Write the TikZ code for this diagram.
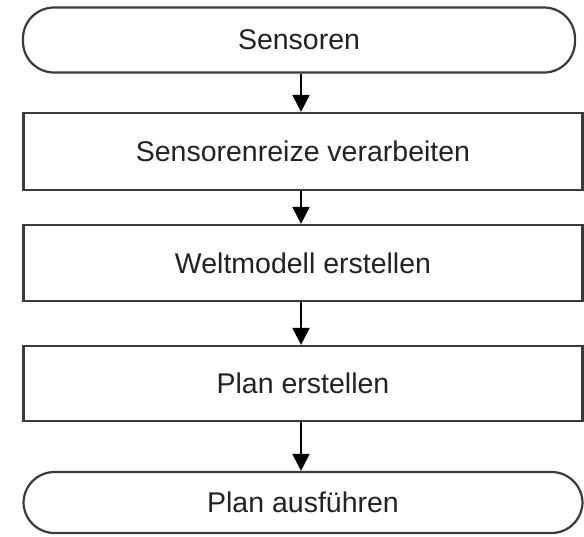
\documentclass[tikz,border=0pt]{standalone}
\usepackage{fontspec}
\setmainfont{Liberation Sans}
\usetikzlibrary{arrows.meta}
\definecolor{edgegray}{HTML}{3A3A3A}
\definecolor{textgray}{HTML}{222222}
\begin{document}
\begin{tikzpicture}[x=1pt,y=1pt,
  box/.style={draw=edgegray, line width=2.2pt, fill=white, rectangle,
    inner sep=0pt, text=textgray,
    font=\fontsize{28.5}{34}\selectfont},
  stepbox/.style={box, minimum width=559pt},
  terminal/.style={box, rounded corners=31pt},
  flow/.style={draw=black, line width=2pt,
    -{Triangle[width=17pt,length=17pt]}}
]
\useasboundingbox[fill=white] (0,0) rectangle (584,-536);

% flow chart nodes
\node[terminal, minimum width=552pt, minimum height=65pt] (sens) at (299,-40) {Sensoren};
\node[stepbox, minimum height=77pt] (reize) at (303,-151.5) {Sensorenreize verarbeiten};
\node[stepbox, minimum height=76pt] (welt) at (303,-263) {Weltmodell erstellen};
\node[stepbox, minimum height=75pt] (plan) at (303,-383.5) {Plan erstellen};
\node[terminal, minimum width=559pt, minimum height=61pt] (ausf) at (303,-502.5) {Plan ausführen};

% common column of the connectors
\coordinate (col) at (301,0);

\draw[flow] (sens.south -| col) -- (reize.north -| col);
\draw[flow] (reize.south -| col) -- (welt.north -| col);
\draw[flow] (welt.south -| col) -- (plan.north -| col);
\draw[flow] (plan.south -| col) -- (ausf.north -| col);
\end{tikzpicture}
\end{document}
